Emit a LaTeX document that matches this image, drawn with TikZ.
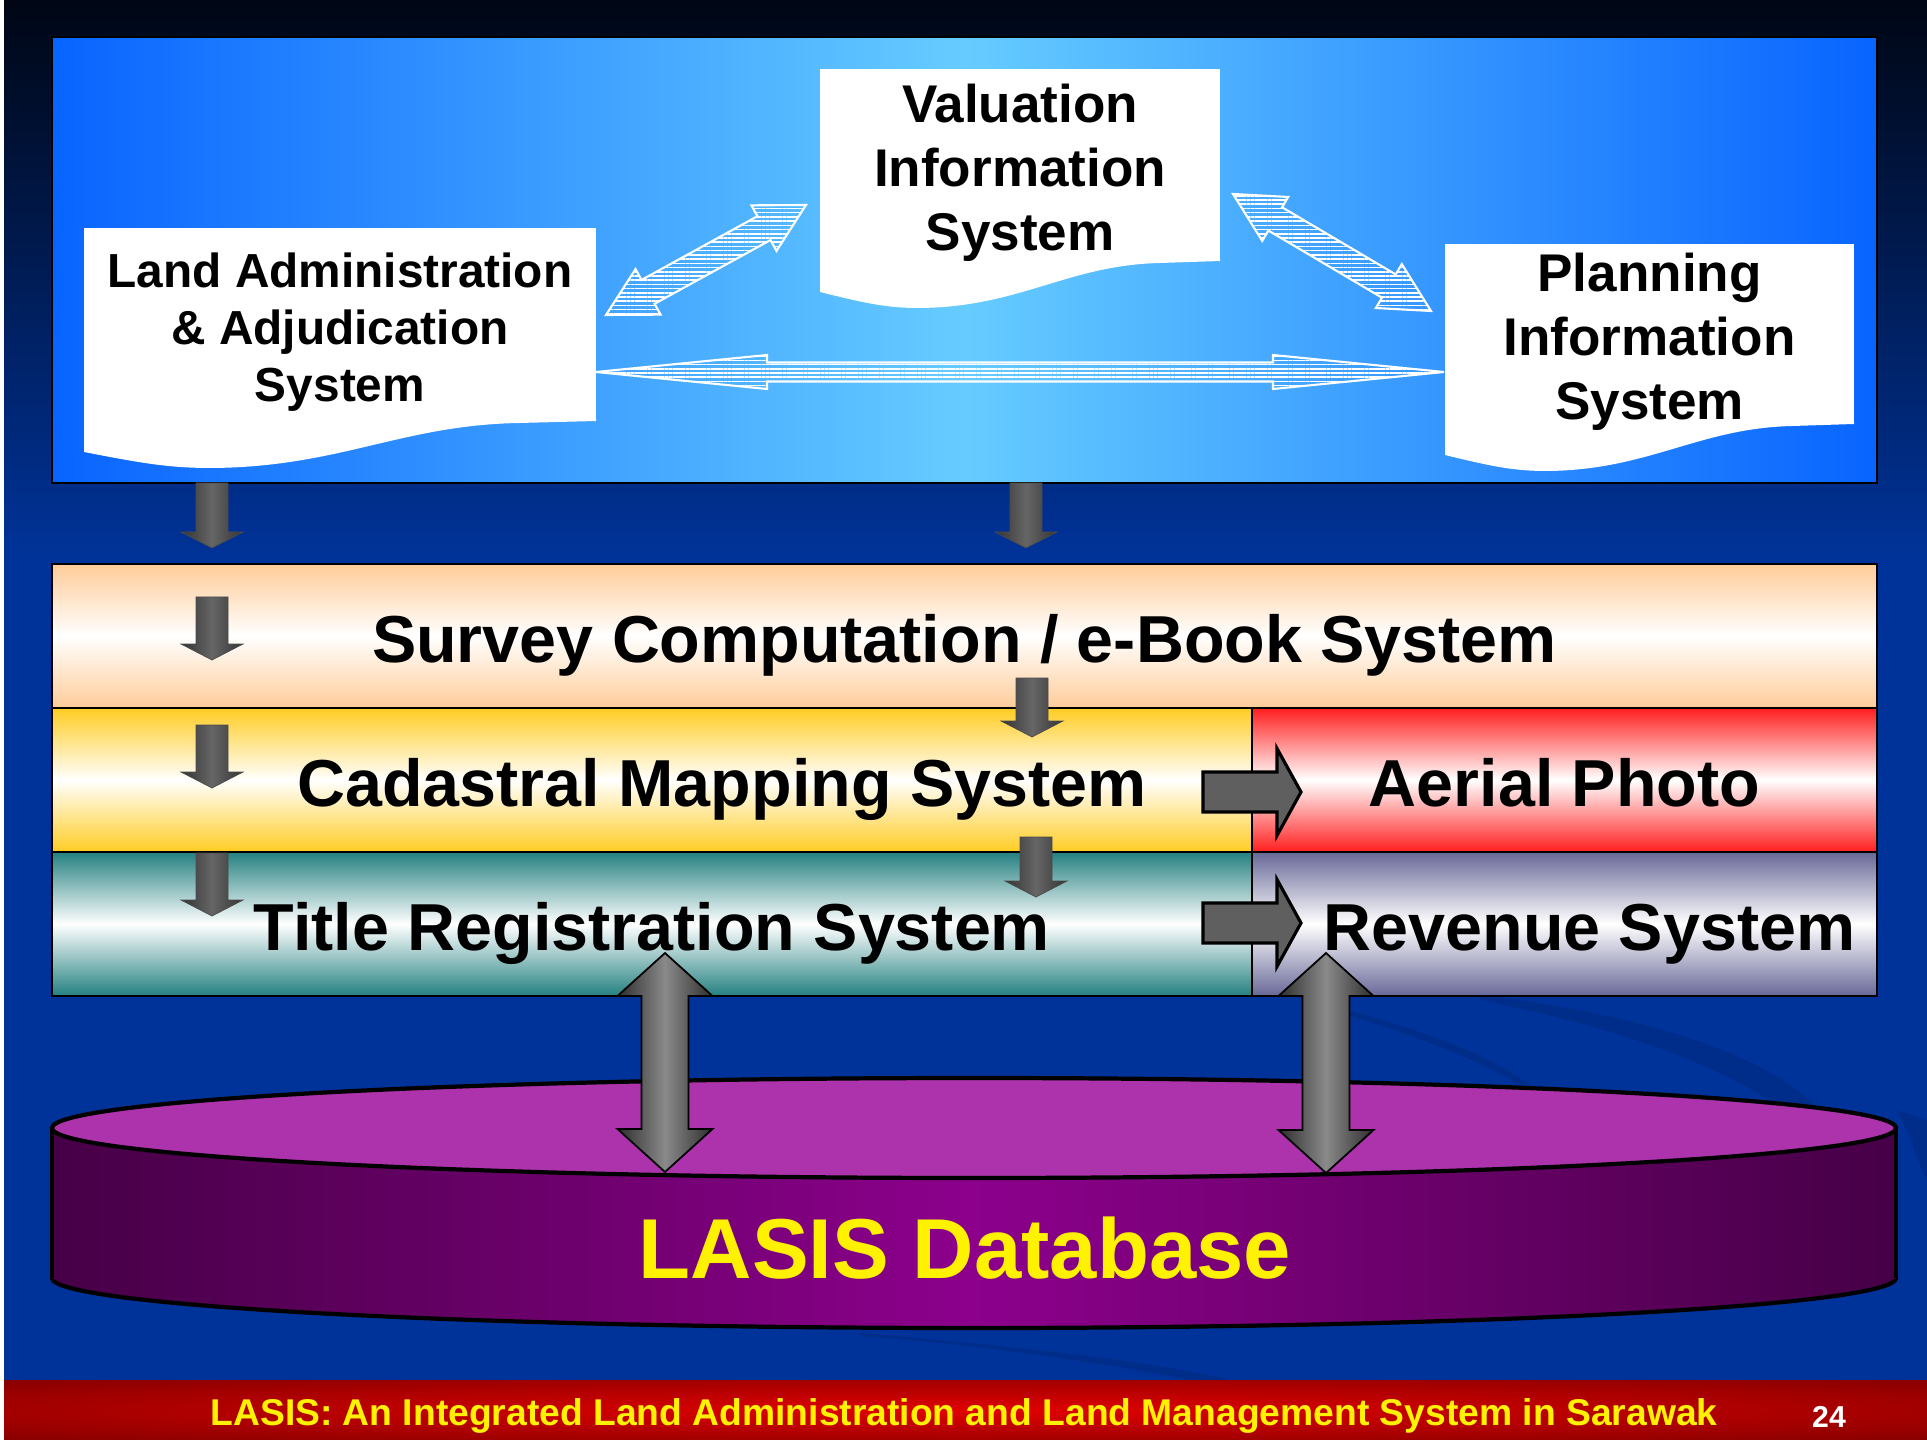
\documentclass[tikz,border=0pt]{standalone}
\usepackage{fontspec}
\setmainfont{Liberation Sans}
\usetikzlibrary{calc,patterns.meta}

\definecolor{slideblue}{RGB}{0,51,153}
\definecolor{slidetop}{RGB}{0,6,20}
\definecolor{swoosh}{RGB}{0,44,138}
\definecolor{panelblue}{RGB}{8,100,255}
\definecolor{panellight}{RGB}{102,204,255}
\definecolor{peach}{RGB}{255,204,153}
\definecolor{gold}{RGB}{255,204,34}
\definecolor{photored}{RGB}{255,30,30}
\definecolor{titleteal}{RGB}{36,128,128}
\definecolor{revslate}{RGB}{104,104,152}
\definecolor{dbtopfill}{RGB}{173,51,173}
\definecolor{dbside}{RGB}{140,0,140}
\definecolor{dbedge}{RGB}{70,0,70}
\definecolor{arrowgray}{RGB}{95,95,95}
\definecolor{footbright}{RGB}{225,0,0}
\definecolor{footdark}{RGB}{112,0,0}

\pgfdeclareradialshading{footglow}{\pgfpoint{0bp}{0bp}}{color(0bp)=(footbright); color(45bp)=(footdark); color(100bp)=(footdark)}

\newcommand{\docfont}{\fontsize{13.6pt}{16.3pt}\selectfont\bfseries}
\newcommand{\docbigfont}{\fontsize{15.1pt}{18.2pt}\selectfont\bfseries}
\newcommand{\rowfont}{\fontsize{18.9pt}{22pt}\selectfont\bfseries}
\newcommand{\dbfont}{\fontsize{24.2pt}{29pt}\selectfont\bfseries}
\newcommand{\footfont}{\fontsize{10.6pt}{12pt}\selectfont\bfseries}

% block arrows: [style]{tail}{tip}{shaft half width}{head half width}{head length}
\newcommand{\blockarrow}[6][]{%
  \path #2 coordinate (tailPt) #3 coordinate (tipPt);
  \path[#1] ($(tailPt)!#4!90:(tipPt)$) -- ($(tipPt)!#6!(tailPt)!#4!-90:(tailPt)$)
    -- ($(tipPt)!#6!(tailPt)!#5!-90:(tailPt)$) -- (tipPt)
    -- ($(tipPt)!#6!(tailPt)!#5!90:(tailPt)$) -- ($(tipPt)!#6!(tailPt)!#4!90:(tailPt)$)
    -- ($(tailPt)!#4!-90:(tipPt)$) -- cycle;}
\newcommand{\doublearrow}[6][]{%
  \path #2 coordinate (tailPt) #3 coordinate (tipPt);
  \path[#1] (tailPt) -- ($(tailPt)!#6!(tipPt)!#5!90:(tipPt)$) -- ($(tailPt)!#6!(tipPt)!#4!90:(tipPt)$)
    -- ($(tipPt)!#6!(tailPt)!#4!-90:(tailPt)$) -- ($(tipPt)!#6!(tailPt)!#5!-90:(tailPt)$) -- (tipPt)
    -- ($(tipPt)!#6!(tailPt)!#5!90:(tailPt)$) -- ($(tipPt)!#6!(tailPt)!#4!90:(tailPt)$)
    -- ($(tailPt)!#6!(tipPt)!#4!-90:(tipPt)$) -- ($(tailPt)!#6!(tipPt)!#5!-90:(tipPt)$) -- cycle;}

\tikzset{%
  % Specifications for style of nodes:
        box/.style = {rectangle, draw=black, line width=0.6pt, outer sep=0pt,
                      inner sep=0pt, anchor=north west},
   panelbox/.style = {box, left color=panelblue, right color=panelblue,
                      middle color=panellight},
        doc/.style = {rectangle, fill=white, outer sep=0pt, inner sep=0pt},
    doctext/.style = {align=center, text=black, inner sep=0pt},
    rowtext/.style = {font=\rowfont, text height=15.1pt, text depth=0pt},
        row/.style = {box, top color=#1, bottom color=#1, middle color=white,
                      minimum height=14.4mm, rowtext},
  % Specifications for style of arrows:
    hatched/.style = {pattern={Lines[angle=0,distance=1.2pt,line width=0.45pt]},
                      pattern color=white, draw=white, line width=0.6pt},
   grayDown/.style = {left color=black!80, right color=black!80, middle color=black!60,
                      draw=black!70, line width=0.2pt},
  grayRight/.style = {fill=arrowgray, draw=black, line width=0.9pt},
   bigArrow/.style = {left color=black!82, right color=black!82, middle color=black!46,
                      draw=black, line width=0.5pt},
}

\begin{document}
\begin{tikzpicture}[x=0.1mm, y=-0.1mm]
  % slide background
  \fill[white] (0,0) rectangle (1927,1440);
  \fill[slideblue] (4,0) rectangle (1927,1380);
  \shade[top color=slidetop, bottom color=slideblue] (4,0) rectangle (1927,560);
  \useasboundingbox (0,0) rectangle (1927,1440);
  \fill[swoosh] (1480,995) .. controls (1650,1015) and (1790,1060) .. (1830,1125)
    -- (1800,1125) .. controls (1750,1075) and (1630,1030) .. (1480,1000) -- cycle;
  \fill[swoosh] (1340,1008) .. controls (1420,1030) and (1480,1050) .. (1530,1085)
    -- (1520,1085) .. controls (1470,1055) and (1410,1035) .. (1340,1012) -- cycle;
  \fill[swoosh] (1896,1110) .. controls (1910,1130) and (1915,1160) .. (1927,1180) -- (1927,1120) -- cycle;
  \fill[swoosh] (860,1333) .. controls (1000,1345) and (1150,1360) .. (1230,1380)
    -- (1190,1380) .. controls (1100,1362) and (980,1345) .. (860,1336) -- cycle;

  % Specification of nodes (position, etc.)
  \node (panel) [panelbox, minimum width=182.5mm, minimum height=44.6mm] at (52,37) {};
  \node (landadm)   [doc, minimum width=51.2mm, minimum height=19.3mm] at (340,324.5) {};
  \node (valuation) [doc, minimum width=40mm, minimum height=19.2mm] at (1020,165) {};
  \node (planning)  [doc, minimum width=40.9mm, minimum height=18mm] at (1649.5,334) {};
  % wavy bottom of the documents
  \foreach \d in {landadm,valuation,planning}
    \fill[white] ($(\d.south west)+(0,-2)$) -- ($(\d.south west)+(0,31)$)
      .. controls ($(\d.south west)!0.12!(\d.south east)+(0,43)$)
         and ($(\d.south west)!0.17!(\d.south east)+(0,47)$)
      .. ($(\d.south west)!0.25!(\d.south east)+(0,47)$)
      .. controls ($(\d.south west)!0.5!(\d.south east)+(0,46)$)
         and ($(\d.south west)!0.62!(\d.south east)+(0,4)$)
      .. ($(\d.south west)!0.85!(\d.south east)+(0,2)$)
      -- (\d.south east) -- ($(\d.south east)+(0,-2)$) -- cycle;
  \node (landadmText)   [doctext, font=\docfont] at ($(landadm.center)+(0,7.5)$)
                        {Land Administration\\\& Adjudication\\System};
  \node (valuationText) [doctext, font=\docbigfont] at ($(valuation.center)+(0,7.5)$)
                        {Valuation\\Information\\System};
  \node (planningText)  [doctext, font=\docbigfont] at ($(planning.center)+(0,7.5)$)
                        {Planning\\Information\\System};

  \node (survey)    [row=peach, minimum width=182.5mm] at (52,564)
                    {Survey Computation / e-Book System};
  \node (cadastral) [row=gold, minimum width=120mm] at (52,708) {};
  \node (aerial)    [row=photored, minimum width=62.5mm] at (1252,708) {Aerial Photo};
  \node (title)     [row=titleteal, minimum width=120mm] at (52,852)
                    {Title Registration System};
  \node (revenue)   [row=revslate, minimum width=62.5mm] at (1252,852) {};
  \node (cadastralText) [rowtext] at ($(cadastral.center)+(70,0)$)
                    {Cadastral Mapping System};
  \node (revenueText)   [rowtext] at ($(revenue.center)+(25,0)$) {Revenue System};

  % LASIS database cylinder
  \coordinate (dbTop) at (974,1128);
  \coordinate (dbBottom) at (974,1278);
  \shade[left color=dbedge, right color=dbedge, middle color=dbside]
    (dbBottom) ellipse [x radius=92.2mm, y radius=5mm];
  \draw[line width=1.2pt] (dbBottom) ellipse [x radius=92.2mm, y radius=5mm];
  \shade[left color=dbedge, right color=dbedge, middle color=dbside]
    (52,1128) rectangle (1896,1278);
  \draw[line width=1.2pt] (52,1128) -- (52,1278) (1896,1128) -- (1896,1278);
  \filldraw[fill=dbtopfill, draw=black, line width=1.2pt]
    (dbTop) ellipse [x radius=92.2mm, y radius=5mm];
  \node (dbLabel) [text=yellow, font=\dbfont] at (965,1248) {LASIS Database};

  % Specification of arrows between nodes specified above
  \coordinate (laUp)    at ($(landadm.north east)+(10,87)$);
  \coordinate (vaLeft)  at ($(valuation.west)+(-14,40)$);
  \coordinate (vaRight) at ($(valuation.east)+(13,29)$);
  \coordinate (plUp)    at ($(planning.north west)+(-14,67)$);
  \coordinate (laRight) at ($(landadm.east)+(0,47.5)$);
  \coordinate (plLeft)  at ($(planning.west)+(-1,38)$);
  \doublearrow[hatched]{(laUp)}{(vaLeft)}{1.36mm}{2.6mm}{4.8mm}
  \doublearrow[hatched]{(vaRight)}{(plUp)}{1.35mm}{2.55mm}{4.9mm}
  \doublearrow[hatched]{(laRight)}{(plLeft)}{0.95mm}{1.7mm}{17.1mm}

  \blockarrow[grayDown]{($(panel.south west)+(160,0)$)}{($(survey.north west)+(160,-16)$)}{1.6mm}{3.1mm}{1.6mm}
  \blockarrow[grayDown]{($(panel.south west)+(974,0)$)}{($(survey.north west)+(974,-16)$)}{1.6mm}{3.1mm}{1.6mm}
  \blockarrow[grayDown]{($(survey.north west)+(160,33)$)}{($(survey.north west)+(160,96)$)}{1.6mm}{3.1mm}{1.6mm}
  \blockarrow[grayDown]{($(cadastral.north west)+(160,17)$)}{($(cadastral.north west)+(160,80)$)}{1.6mm}{3.1mm}{1.6mm}
  \blockarrow[grayDown]{($(title.north west)+(160,1)$)}{($(title.north west)+(160,64)$)}{1.6mm}{3.1mm}{1.6mm}
  \blockarrow[grayDown]{($(survey.north west)+(980,114)$)}{($(cadastral.north west)+(980,29)$)}{1.6mm}{3.1mm}{1.6mm}
  \blockarrow[grayDown]{($(cadastral.north west)+(984,129)$)}{($(title.north west)+(984,45)$)}{1.6mm}{3.1mm}{1.6mm}

  \blockarrow[grayRight]{($(cadastral.east)+(-49,12)$)}{($(aerial.west)+(49,12)$)}{2mm}{4.35mm}{2.4mm}
  \blockarrow[grayRight]{($(title.east)+(-49,-1)$)}{($(revenue.west)+(49,-1)$)}{2mm}{4.35mm}{2.4mm}

  \doublearrow[bigArrow]{($(title.south west)+(613,-43)$)}{($(dbTop)+(-309,44)$)}{2.35mm}{4.75mm}{4.3mm}
  \doublearrow[bigArrow]{($(revenue.south west)+(74,-43)$)}{($(dbTop)+(352,45)$)}{2.35mm}{4.75mm}{4.3mm}

  % footer
  \node (footer) [anchor=north west, minimum width=192.3mm, minimum height=6mm,
                  inner sep=0pt, outer sep=0pt, shading=footglow] at (4,1380) {};
  \node (footTitle) [text=yellow, font=\footfont, text height=7.6pt, text depth=0pt]
    at (964,1412)
    {LASIS: An Integrated Land Administration and Land Management System in Sarawak};
  \node (pageNo) [text=white, font=\fontsize{8.6pt}{10pt}\selectfont\bfseries,
                  text height=6.2pt, text depth=0pt] at (1829,1417) {24};
\end{tikzpicture}
\end{document}
